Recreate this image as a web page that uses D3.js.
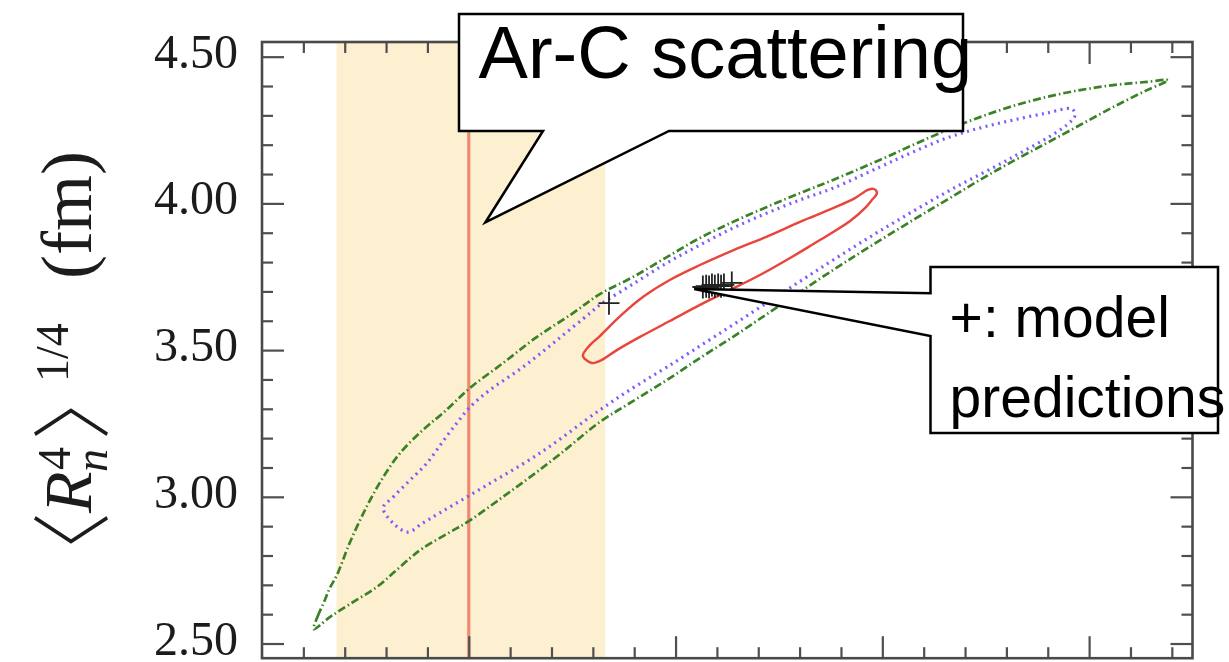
<!DOCTYPE html>
<html>
<head>
<meta charset="utf-8">
<script src="https://cdn.jsdelivr.net/npm/d3@7"></script>
<style>
  html, body { margin: 0; padding: 0; background: #fff; }
  svg { display: block; }
</style>
</head>
<body>
<svg id="chart" width="1229" height="662"></svg>
<script>
// ---- data -------------------------------------------------------------
const xDomain = [2.5, 4.75];
const yDomain = [2.45, 4.55];

const yMajorTicks = [2.5, 3.0, 3.5, 4.0, 4.5];
const yTickLabels = ["2.50", "3.00", "3.50", "4.00", "4.50"];
const xMajorTicks = [3.0, 3.5, 4.0, 4.5];

// Ar-C scattering constraint: central value and band
const centralValue = 3.00;
const bandRange = [2.68, 3.33];

// outer contour (dash-dot)
const outerContour = [
  [2.625,2.549],[2.635,2.594],[2.650,2.641],[2.664,2.689],[2.681,2.733],[2.713,2.846],
  [2.754,2.969],[2.793,3.067],[2.834,3.149],[2.889,3.228],[2.938,3.286],[3.003,3.371],
  [3.083,3.456],[3.165,3.545],[3.252,3.626],[3.317,3.691],[3.397,3.749],[3.479,3.817],
  [3.559,3.882],[3.639,3.937],[3.721,3.988],[3.801,4.035],[3.881,4.080],[3.994,4.148],
  [4.074,4.199],[4.156,4.250],[4.236,4.294],[4.316,4.332],[4.398,4.363],[4.478,4.386],
  [4.558,4.403],[4.640,4.414],[4.691,4.420],
  [4.640,4.386],[4.558,4.328],[4.478,4.267],[4.398,4.206],[4.316,4.144],[4.236,4.080],
  [4.156,4.012],[4.074,3.943],[3.960,3.844],[3.881,3.773],[3.801,3.698],[3.721,3.623],
  [3.639,3.545],[3.559,3.473],[3.479,3.398],[3.397,3.326],[3.317,3.255],[3.221,3.146],
  [3.148,3.067],[3.075,2.992],[3.000,2.917],[2.955,2.880],[2.889,2.825],[2.858,2.791],
  [2.817,2.740],[2.778,2.693],[2.713,2.635],[2.664,2.590]
];

// middle contour (dotted)
const middleContour = [
  [2.793,2.962],[2.817,2.999],[2.858,3.057],[2.899,3.115],[2.938,3.190],[2.971,3.251],
  [3.003,3.306],[3.051,3.364],[3.131,3.442],[3.213,3.534],[3.293,3.626],[3.317,3.654],
  [3.397,3.725],[3.479,3.797],[3.559,3.858],[3.639,3.916],[3.721,3.967],[3.801,4.012],
  [3.881,4.052],[3.994,4.124],[4.074,4.175],[4.156,4.223],[4.236,4.257],[4.316,4.284],
  [4.398,4.308],[4.458,4.322],[4.466,4.301],
  [4.446,4.267],[4.316,4.158],[4.156,4.039],[3.994,3.906],[3.881,3.807],[3.769,3.705],
  [3.600,3.551],[3.479,3.442],[3.397,3.371],[3.317,3.296],[3.172,3.149],[3.003,3.006],
  [2.930,2.945],[2.889,2.911],[2.853,2.880],[2.822,2.904]
];

// inner contour (solid)
const innerContour = [
  [3.276,3.480],[3.293,3.517],[3.317,3.548],[3.366,3.616],[3.421,3.681],[3.486,3.739],
  [3.559,3.790],[3.639,3.840],[3.721,3.887],[3.801,3.937],[3.881,3.984],[3.934,4.018],
  [3.965,4.046],[3.980,4.049],[3.987,4.035],
  [3.975,4.012],[3.958,3.984],[3.922,3.940],[3.849,3.875],[3.777,3.814],[3.704,3.756],
  [3.632,3.705],[3.559,3.654],[3.486,3.599],[3.414,3.545],[3.358,3.500],[3.317,3.463],
  [3.298,3.456]
];

// model predictions
const modelX = [3.339, 3.566, 3.574, 3.581, 3.588, 3.595, 3.603, 3.610, 3.617, 3.636];
const modelY = [3.660, 3.715, 3.718, 3.715, 3.722, 3.718, 3.722, 3.718, 3.722, 3.729];

// callout anchor points (data units)
const arcTip = [3.04, 3.935];
const modelTip = [3.545, 3.708];

// ---- layout -----------------------------------------------------------
const plot = { left: 262, right: 1192.5, top: 42, bottom: 658.2 };
const x = d3.scaleLinear().domain(xDomain).range([plot.left, plot.right]);
const y = d3.scaleLinear().domain(yDomain).range([plot.bottom, plot.top]);

const xMinorTicks = d3.range(26, 48).map(d => d / 10).filter(v => !xMajorTicks.some(m => Math.abs(m - v) < 1e-6));
const yMinorTicks = d3.range(26, 46).map(d => d / 10).filter(v => !yMajorTicks.some(m => Math.abs(m - v) < 1e-6));

const svg = d3.select("#chart");
svg.append("rect").attr("width", 1229).attr("height", 662).attr("fill", "#fff");

const defs = svg.append("defs");
defs.append("filter").attr("id", "soft")
  .attr("x", "-5%").attr("y", "-5%").attr("width", "110%").attr("height", "110%")
  .append("feGaussianBlur").attr("stdDeviation", 0.5);
defs.append("clipPath").attr("id", "plotClip")
  .append("rect")
  .attr("x", plot.left).attr("y", plot.top)
  .attr("width", plot.right - plot.left).attr("height", plot.bottom - plot.top);

const g = svg.append("g").attr("filter", "url(#soft)");

// constraint band and central value
const inner = g.append("g").attr("clip-path", "url(#plotClip)");
inner.append("rect")
  .attr("x", x(bandRange[0])).attr("y", plot.top)
  .attr("width", x(bandRange[1]) - x(bandRange[0]))
  .attr("height", plot.bottom - plot.top)
  .attr("fill", "#fdf0d0");
inner.append("line")
  .attr("x1", x(centralValue)).attr("x2", x(centralValue))
  .attr("y1", plot.top).attr("y2", plot.bottom)
  .attr("stroke", "#ef8a72").attr("stroke-width", 3.2);

// contours
const contourLine = d3.line()
  .x(d => x(d[0])).y(d => y(d[1]))
  .curve(d3.curveCatmullRomClosed.alpha(0.5));

inner.append("path").attr("d", contourLine(outerContour))
  .attr("fill", "none").attr("stroke", "#3b8128").attr("stroke-width", 2.7)
  .attr("stroke-dasharray", "8,3,1.5,3");
inner.append("path").attr("d", contourLine(middleContour))
  .attr("fill", "none").attr("stroke", "#7a5cff").attr("stroke-width", 3.2)
  .attr("stroke-dasharray", "2,4.4");
inner.append("path").attr("d", contourLine(innerContour))
  .attr("fill", "none").attr("stroke", "#e8443b").attr("stroke-width", 2.4);

// model prediction markers
inner.selectAll("path.model")
  .data(modelX.map((v, i) => [v, modelY[i]]))
  .join("path")
  .attr("class", "model")
  .attr("transform", d => `translate(${x(d[0])},${y(d[1])})`)
  .attr("d", "M-10.5,0H10.5M0,-11.5V11.5")
  .attr("stroke", "#222").attr("stroke-width", 1.8).attr("fill", "none");

// axes: ticks point inwards on all four sides
function styleAxis(sel) {
  sel.select(".domain").remove();
  sel.selectAll(".tick line").attr("stroke", "#505050").attr("stroke-width", 2.2);
}
g.append("g").attr("transform", `translate(0,${plot.bottom})`)
  .call(d3.axisBottom(x).tickValues(xMinorTicks).tickSize(-11).tickFormat("")).call(styleAxis);
g.append("g").attr("transform", `translate(0,${plot.bottom})`)
  .call(d3.axisBottom(x).tickValues(xMajorTicks).tickSize(-22).tickFormat("")).call(styleAxis);
g.append("g").attr("transform", `translate(0,${plot.top})`)
  .call(d3.axisTop(x).tickValues(xMinorTicks).tickSize(-11).tickFormat("")).call(styleAxis);
g.append("g").attr("transform", `translate(0,${plot.top})`)
  .call(d3.axisTop(x).tickValues(xMajorTicks).tickSize(-22).tickFormat("")).call(styleAxis);
g.append("g").attr("transform", `translate(${plot.right},0)`)
  .call(d3.axisRight(y).tickValues(yMinorTicks).tickSize(-11).tickFormat("")).call(styleAxis);
g.append("g").attr("transform", `translate(${plot.right},0)`)
  .call(d3.axisRight(y).tickValues(yMajorTicks).tickSize(-22).tickFormat("")).call(styleAxis);
g.append("g").attr("transform", `translate(${plot.left},0)`)
  .call(d3.axisLeft(y).tickValues(yMinorTicks).tickSize(-11).tickFormat("")).call(styleAxis);

const yAxis = g.append("g").attr("transform", `translate(${plot.left},0)`)
  .call(d3.axisLeft(y).tickValues(yMajorTicks).tickSize(-22).tickPadding(24)
    .tickFormat(d => yTickLabels[yMajorTicks.indexOf(d)]))
  .call(styleAxis);
yAxis.attr("font-family", null).attr("font-size", null);
yAxis.selectAll("text")
  .attr("dy", "0.22em")
  .attr("fill", "#1a1a1a")
  .style("font-family", "'Liberation Serif','DejaVu Serif',serif")
  .style("font-size", "48px");

// frame
g.append("rect")
  .attr("x", plot.left).attr("y", plot.top)
  .attr("width", plot.right - plot.left).attr("height", plot.bottom - plot.top)
  .attr("fill", "none").attr("stroke", "#4a4a4a").attr("stroke-width", 2.6);

// y axis title, laid out along the rotated baseline (x here = -screen y)
const ylab = g.append("text")
  .attr("transform", "translate(91,0) rotate(-90)")
  .attr("fill", "#1a1a1a")
  .style("font-family", "'Liberation Serif','DejaVu Serif',serif")
  .style("font-size", "68px");
const bracketStyle = s => s.style("font-family", "'Noto Sans CJK JP','Noto Sans CJK SC',sans-serif")
  .style("font-weight", "300").style("font-size", "80px");
ylab.append("tspan").attr("x", -592).attr("dy", 10).call(bracketStyle).text("\u3008");
ylab.append("tspan").attr("x", -513).attr("dy", -10).style("font-style", "italic").text("R");
ylab.append("tspan").attr("x", -470).attr("dy", -21).style("font-size", "46px").text("4");
ylab.append("tspan").attr("x", -472).attr("dy", 37).style("font-size", "46px").style("font-style", "italic").text("n");
ylab.append("tspan").attr("x", -440).attr("dy", -6).call(bracketStyle).text("\u3009");
ylab.append("tspan").attr("x", -382).attr("dy", -33).style("font-size", "46px").text("1/4");
ylab.append("tspan").attr("x", -279).attr("dy", 23).style("font-size", "72px").text("(fm)");

// ---- callouts ---------------------------------------------------------
const callouts = svg.append("g");
const sansFont = "'Liberation Sans', Arial, sans-serif";

const t1 = [x(arcTip[0]), y(arcTip[1])];
callouts.append("path")
  .attr("d", `M459,14H963V131H669L${t1[0]},${t1[1]}L543,131H459Z`)
  .attr("fill", "#fff").attr("stroke", "#000").attr("stroke-width", 2.5);
callouts.append("text")
  .attr("x", 478.6).attr("y", 78)
  .style("font-family", sansFont).style("font-size", "74px")
  .attr("fill", "#000").text("Ar-C scattering");

const t2 = [x(modelTip[0]), y(modelTip[1])];
callouts.append("path")
  .attr("d", `M930.5,267H1218V433H930.5V336L${t2[0]},${t2[1]}L930.5,293.3Z`)
  .attr("fill", "#fff").attr("stroke", "#000").attr("stroke-width", 2.5);
const t2text = callouts.append("text")
  .style("font-family", sansFont).style("font-size", "57px").attr("fill", "#000");
t2text.append("tspan").attr("x", 949.6).attr("y", 337).text("+: model");
t2text.append("tspan").attr("x", 949.6).attr("y", 417).text("predictions");
</script>
</body>
</html>
